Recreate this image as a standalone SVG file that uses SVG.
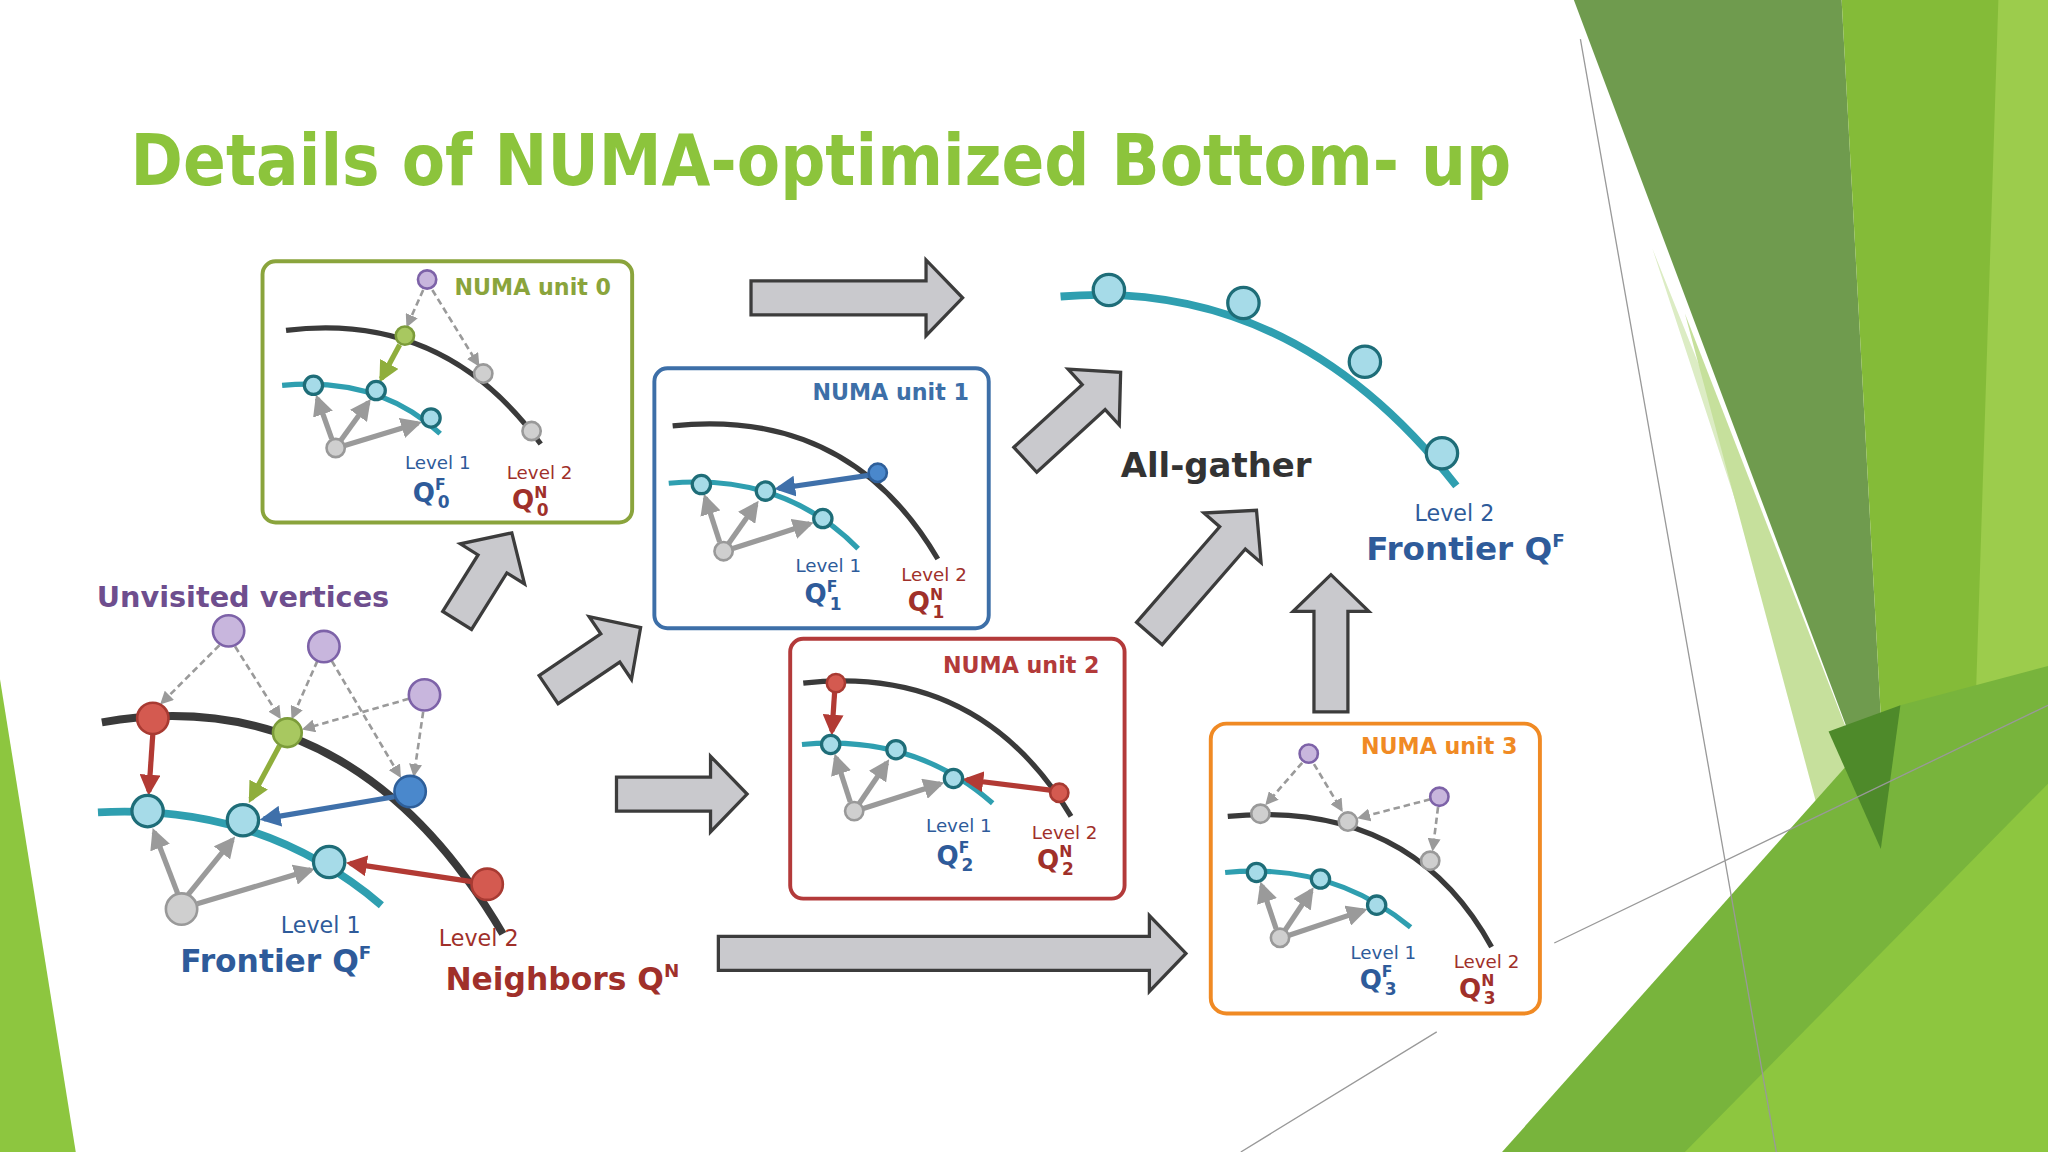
<svg xmlns="http://www.w3.org/2000/svg" width="2048" height="1152" viewBox="0 0 2048 1152">
<style>
text{font-family:"DejaVu Sans","Noto Sans",sans-serif}
.blk{fill:none;stroke:#3a3a3a;stroke-width:4}
.tl{fill:none;stroke:#2f9fb0;stroke-width:4}
.blkB{fill:none;stroke:#3a3a3a;stroke-width:6}
.tlB{fill:none;stroke:#2f9fb0;stroke-width:6}
.tn{fill:#a6dbe8;stroke:#1e6d78;stroke-width:2.5}
.gn{fill:#cfcfcf;stroke:#999;stroke-width:2}
.pn{fill:#c8b6dd;stroke:#7d62a8;stroke-width:2}
.big{fill:#c9c9cd;stroke:#3c3c3c;stroke-width:2.5}
.ga{stroke:#9a9a9a;stroke-width:4;fill:none;marker-end:url(#mg)}
.da{stroke:#9a9a9a;stroke-width:2;stroke-dasharray:5 3;fill:none;marker-end:url(#md)}
.ra{stroke:#b23a34;stroke-width:4;fill:none;marker-end:url(#mr)}
.gra{stroke:#8fae3c;stroke-width:4;fill:none;marker-end:url(#mgr)}
.ba{stroke:#3f70aa;stroke-width:4;fill:none;marker-end:url(#mb)}
.unit{fill:#fff;stroke-width:3}
.ut{font-weight:bold;font-size:17px}
.l1{fill:#2e5b9a;font-size:14px}
.l2{fill:#a0302a;font-size:14px}
.q1{fill:#2e5b9a;font-size:20px;font-weight:bold}
.q2{fill:#a0302a;font-size:20px;font-weight:bold}
</style>
<defs>
<marker id="mg" viewBox="0 0 10 10" refX="8" refY="5" markerWidth="4" markerHeight="4" orient="auto"><path d="M0,0L10,5L0,10z" fill="#9a9a9a"/></marker>
<marker id="md" viewBox="0 0 10 10" refX="8" refY="5" markerWidth="5" markerHeight="5" orient="auto"><path d="M0,0L10,5L0,10z" fill="#9a9a9a"/></marker>
<marker id="mr" viewBox="0 0 10 10" refX="8" refY="5" markerWidth="4" markerHeight="4" orient="auto"><path d="M0,0L10,5L0,10z" fill="#b23a34"/></marker>
<marker id="mgr" viewBox="0 0 10 10" refX="8" refY="5" markerWidth="4" markerHeight="4" orient="auto"><path d="M0,0L10,5L0,10z" fill="#8fae3c"/></marker>
<marker id="mb" viewBox="0 0 10 10" refX="8" refY="5" markerWidth="4" markerHeight="4" orient="auto"><path d="M0,0L10,5L0,10z" fill="#3f70aa"/></marker>
</defs>
<rect width="2048" height="1152" fill="#fff"/>
<g transform="scale(1.30612)">
<g id="background">
<path d="M1265,190L1445,640L1330,882H1195L1400,600Z" fill="#dcecc4"/>
<path d="M1290,240L1430,600L1400,650Z" fill="#c6e09c"/>
<path d="M1205,0H1410L1445,640Z" fill="#6f9b4e"/>
<path d="M1410,0H1568V882H1480L1445,640Z" fill="#84bb38"/>
<path d="M1530,0H1568V560L1510,620Z" fill="#9ccc4c"/>
<path d="M1150,882L1455,540L1568,510V882Z" fill="#78b43c"/>
<path d="M1290,882L1568,600V882Z" fill="#8dc63f"/>
<path d="M1400,560L1455,540L1440,650Z" fill="#4e8a2a"/>
<path d="M0,520L58,882H0Z" fill="#8dc63f"/>
<path d="M1210,30L1360,882M1190,722L1568,540M950,882L1100,790" stroke="#999" stroke-width="1" fill="none"/>
</g>
<text id="title" x="100" y="142" font-size="54" font-weight="bold" fill="#8cc43c" textLength="1057" lengthAdjust="spacingAndGlyphs">Details of NUMA-optimized Bottom- up</text>

<g id="main">
<path class="blkB" d="M78,553Q270,520 385,715"/>
<path class="tlB" d="M75,622Q200,615 292,693"/>
<g id="main-edges">
<line class="da" x1="168" y1="494" x2="124" y2="538"/>
<line class="da" x1="180" y1="495" x2="214" y2="549"/>
<line class="da" x1="243" y1="506" x2="224" y2="549"/>
<line class="da" x1="313" y1="535" x2="233" y2="558"/>
<line class="da" x1="254" y1="506" x2="306" y2="594"/>
<line class="da" x1="324" y1="545" x2="317" y2="593"/>
<line class="ra" x1="117" y1="562" x2="114" y2="606"/>
<line class="gra" x1="214" y1="571" x2="192" y2="612"/>
<line class="ba" x1="302" y1="610" x2="202" y2="627"/>
<line class="ra" x1="361" y1="675" x2="268" y2="661"/>
<line class="ga" x1="136" y1="684" x2="118" y2="637"/>
<line class="ga" x1="144" y1="685" x2="178" y2="643"/>
<line class="ga" x1="151" y1="692" x2="238" y2="666"/>
</g>
<circle class="pn" cx="175" cy="483" r="12"/><circle class="pn" cx="248" cy="495" r="12"/><circle class="pn" cx="325" cy="532" r="12"/>
<circle cx="117" cy="550" r="12" fill="#d45a50" stroke="#a83a32" stroke-width="2"/>
<circle cx="220" cy="561" r="11" fill="#a8c860" stroke="#7c9c3a" stroke-width="2"/>
<circle cx="314" cy="606" r="12" fill="#4a88cc" stroke="#2e5f9a" stroke-width="2"/>
<circle cx="373" cy="677" r="12" fill="#d45a50" stroke="#a83a32" stroke-width="2"/>
<circle class="tn" cx="113" cy="621" r="12"/><circle class="tn" cx="186" cy="628" r="12"/><circle class="tn" cx="252" cy="660" r="12"/>
<circle class="gn" cx="139" cy="696" r="12"/>
<text x="74" y="465" font-size="22" font-weight="bold" fill="#6e4e8e">Unvisited vertices</text>
<text x="215" y="714" font-size="17" fill="#2e5b9a">Level 1</text>
<text x="138" y="744" font-size="24" font-weight="bold" fill="#2e5b9a">Frontier Q<tspan font-size="14" dy="-10">F</tspan></text>
<text x="336" y="724" font-size="17" fill="#a0302a">Level 2</text>
<text x="341" y="758" font-size="24" font-weight="bold" fill="#a0302a">Neighbors Q<tspan font-size="14" dy="-10">N</tspan></text>
</g>

<g id="unit0">
<rect class="unit" x="201" y="200" width="283" height="200" rx="10" stroke="#8aa43c"/>
<path class="blk" d="M219,253Q340,238 414,340"/>
<path class="tl" d="M216,295Q290,288 337,332"/>
<line class="da" x1="324" y1="222" x2="312" y2="249"/>
<line class="da" x1="331" y1="222" x2="366" y2="279"/>
<line class="gra" x1="306" y1="264" x2="292" y2="290"/>
<line class="ga" x1="254" y1="336" x2="243" y2="305"/>
<line class="ga" x1="261" y1="337" x2="282" y2="308"/>
<line class="ga" x1="264" y1="341" x2="320" y2="324"/>
<circle class="pn" cx="327" cy="214" r="7"/>
<circle cx="310" cy="257" r="7" fill="#a8c860" stroke="#7c9c3a" stroke-width="2"/>
<circle class="gn" cx="370" cy="286" r="7"/><circle class="gn" cx="407" cy="330" r="7"/>
<circle class="tn" cx="240" cy="295" r="7"/><circle class="tn" cx="288" cy="299" r="7"/><circle class="tn" cx="330" cy="320" r="7"/>
<circle class="gn" cx="257" cy="343" r="7"/>
<text class="ut" x="348" y="226" fill="#8aa43c">NUMA unit 0</text>
<text class="l1" x="310" y="359">Level 1</text>
<text class="q1" x="316" y="384">Q<tspan font-size="12" dy="-9">F</tspan><tspan font-size="13" dx="-6" dy="14">0</tspan></text>
<text class="l2" x="388" y="367">Level 2</text>
<text class="q2" x="392" y="390">Q<tspan font-size="12" dy="-9">N</tspan><tspan font-size="13" dx="-8" dy="14">0</tspan></text>
</g>

<g id="unit1">
<rect class="unit" x="501" y="282" width="256" height="199" rx="10" stroke="#3d6fa8"/>
<path class="blk" d="M515,326Q650,312 718,428"/>
<path class="tl" d="M512,370Q600,362 657,420"/>
<line class="ba" x1="665" y1="364" x2="596" y2="374"/>
<line class="ga" x1="551" y1="415" x2="540" y2="381"/>
<line class="ga" x1="558" y1="416" x2="579" y2="386"/>
<line class="ga" x1="561" y1="420" x2="620" y2="401"/>
<circle cx="672" cy="362" r="7" fill="#4a88cc" stroke="#2e5f9a" stroke-width="2"/>
<circle class="tn" cx="537" cy="371" r="7"/><circle class="tn" cx="586" cy="376" r="7"/><circle class="tn" cx="630" cy="397" r="7"/>
<circle class="gn" cx="554" cy="422" r="7"/>
<text class="ut" x="622" y="306" fill="#3d6fa8">NUMA unit 1</text>
<text class="l1" x="609" y="438">Level 1</text>
<text class="q1" x="616" y="462">Q<tspan font-size="12" dy="-9">F</tspan><tspan font-size="13" dx="-6" dy="14">1</tspan></text>
<text class="l2" x="690" y="445">Level 2</text>
<text class="q2" x="695" y="468">Q<tspan font-size="12" dy="-9">N</tspan><tspan font-size="13" dx="-8" dy="14">1</tspan></text>
</g>

<g id="unit2">
<rect class="unit" x="605" y="489" width="256" height="199" rx="10" stroke="#b33a3a"/>
<path class="blk" d="M615,523Q750,508 820,625"/>
<path class="tl" d="M614,570Q700,562 760,615"/>
<line class="ra" x1="639" y1="530" x2="637" y2="560"/>
<line class="ra" x1="804" y1="605" x2="740" y2="597"/>
<line class="ga" x1="651" y1="614" x2="640" y2="580"/>
<line class="ga" x1="658" y1="615" x2="679" y2="584"/>
<line class="ga" x1="661" y1="619" x2="720" y2="600"/>
<circle cx="640" cy="523" r="7" fill="#d45a50" stroke="#a83a32" stroke-width="2"/>
<circle cx="811" cy="607" r="7" fill="#d45a50" stroke="#a83a32" stroke-width="2"/>
<circle class="tn" cx="636" cy="570" r="7"/><circle class="tn" cx="686" cy="574" r="7"/><circle class="tn" cx="730" cy="596" r="7"/>
<circle class="gn" cx="654" cy="621" r="7"/>
<text class="ut" x="722" y="515" fill="#b33a3a">NUMA unit 2</text>
<text class="l1" x="709" y="637">Level 1</text>
<text class="q1" x="717" y="662">Q<tspan font-size="12" dy="-9">F</tspan><tspan font-size="13" dx="-6" dy="14">2</tspan></text>
<text class="l2" x="790" y="642">Level 2</text>
<text class="q2" x="794" y="665">Q<tspan font-size="12" dy="-9">N</tspan><tspan font-size="13" dx="-8" dy="14">2</tspan></text>
</g>

<g id="unit3">
<rect class="unit" x="927" y="554" width="252" height="222" rx="12" stroke="#f08a24"/>
<path class="blk" d="M940,625Q1080,612 1142,725"/>
<path class="tl" d="M938,668Q1020,660 1080,710"/>
<line class="da" x1="997" y1="584" x2="970" y2="615"/>
<line class="da" x1="1006" y1="585" x2="1027" y2="620"/>
<line class="da" x1="1095" y1="612" x2="1041" y2="626"/>
<line class="da" x1="1101" y1="618" x2="1097" y2="650"/>
<line class="ga" x1="977" y1="711" x2="966" y2="678"/>
<line class="ga" x1="984" y1="712" x2="1004" y2="682"/>
<line class="ga" x1="987" y1="716" x2="1044" y2="697"/>
<circle class="pn" cx="1002" cy="577" r="7"/><circle class="pn" cx="1102" cy="610" r="7"/>
<circle class="gn" cx="965" cy="623" r="7"/><circle class="gn" cx="1032" cy="629" r="7"/><circle class="gn" cx="1095" cy="659" r="7"/>
<circle class="tn" cx="962" cy="668" r="7"/><circle class="tn" cx="1011" cy="673" r="7"/><circle class="tn" cx="1054" cy="693" r="7"/>
<circle class="gn" cx="980" cy="718" r="7"/>
<text class="ut" x="1042" y="577" fill="#f08a24">NUMA unit 3</text>
<text class="l1" x="1034" y="734">Level 1</text>
<text class="q1" x="1041" y="757">Q<tspan font-size="12" dy="-9">F</tspan><tspan font-size="13" dx="-6" dy="14">3</tspan></text>
<text class="l2" x="1113" y="741">Level 2</text>
<text class="q2" x="1117" y="764">Q<tspan font-size="12" dy="-9">N</tspan><tspan font-size="13" dx="-8" dy="14">3</tspan></text>
</g>

<g id="result">
<path class="tlB" d="M812,227Q990,212 1115,372"/>
<circle class="tn" cx="849" cy="222" r="12"/><circle class="tn" cx="952" cy="232" r="12"/><circle class="tn" cx="1045" cy="277" r="12"/><circle class="tn" cx="1104" cy="347" r="12"/>
<text x="858" y="365" font-size="26" font-weight="bold" fill="#333">All-gather</text>
<text x="1083" y="399" font-size="17" fill="#2e5b9a">Level 2</text>
<text x="1046" y="429" font-size="25" font-weight="bold" fill="#2e5b9a">Frontier Q<tspan font-size="14" dy="-10">F</tspan></text>
</g>

<g id="connectors">
<path class="big" transform="translate(575,228)" d="M0,-13H134V-29L162,0L134,29V13H0Z"/>
<path class="big" transform="translate(472,608)" d="M0,-13H72V-29L100,0L72,29V13H0Z"/>
<path class="big" transform="translate(550,730)" d="M0,-13H330V-29L358,0L330,29V13H0Z"/>
<path class="big" transform="translate(350,475) rotate(-58)" d="M0,-13H51V-29L79,0L51,29V13H0Z"/>
<path class="big" transform="translate(420,528) rotate(-34)" d="M0,-13H57V-29L85,0L57,29V13H0Z"/>
<path class="big" transform="translate(785,352) rotate(-42.5)" d="M0,-13H71V-29L99,0L71,29V13H0Z"/>
<path class="big" transform="translate(880,485) rotate(-49)" d="M0,-13H97V-29L125,0L97,29V13H0Z"/>
<path class="big" transform="translate(1019,545) rotate(-90)" d="M0,-13H77V-29L105,0L77,29V13H0Z"/>
</g>
</g>
</svg>
